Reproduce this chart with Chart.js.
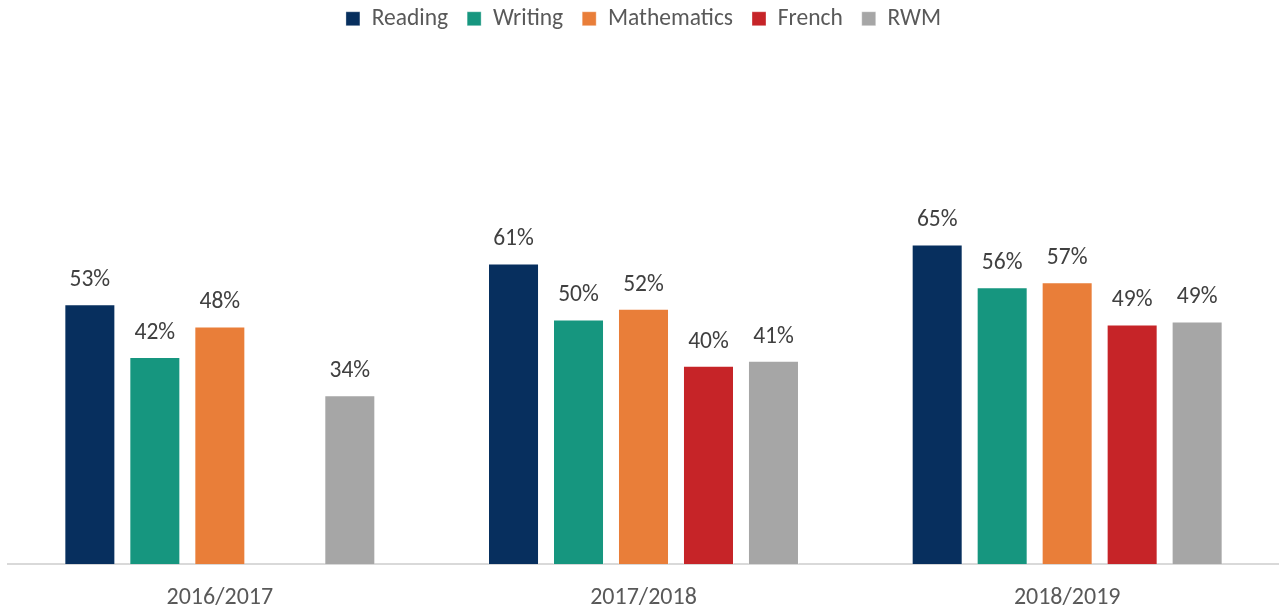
<!DOCTYPE html>
<html>
<head>
<meta charset="utf-8">
<script src="https://cdn.jsdelivr.net/npm/chart.js@4"></script>
<style>
  html, body { margin: 0; padding: 0; background: #ffffff; }
  #wrap { width: 1279px; height: 610px; position: relative; }
</style>
</head>
<body>
<div id="wrap"><canvas id="chart"></canvas></div>
<script>
// data (percent)
const years = ['2016/2017', '2017/2018', '2018/2019'];
const reading = [52.9, 61.2, 65.1];
const writing = [42.2, 49.8, 56.4];
const mathematics = [48.4, 52.0, 57.4];
const french = [null, 40.4, 48.8];
const rwm = [34.4, 41.4, 49.4];

const FONT = "Carlito, Calibri, Lato, 'Open Sans', sans-serif";

// draws the value above each bar
const barLabels = {
    id: 'barLabels',
    afterDatasetsDraw(chart) {
        const ctx = chart.ctx;
        ctx.save();
        ctx.font = '23.5px ' + FONT;
        ctx.fillStyle = '#404040';
        ctx.textAlign = 'center';
        ctx.textBaseline = 'middle';
        chart.data.datasets.forEach(function (ds, i) {
            const meta = chart.getDatasetMeta(i);
            meta.data.forEach(function (bar, j) {
                const v = ds.data[j];
                if (v === null || v === undefined) return;
                ctx.fillText(Math.round(v) + '%', bar.x, bar.y - 24);
            });
        });
        ctx.restore();
    }
};

// make the legend block taller so the plot starts lower
const legendSpace = {
    id: 'legendSpace',
    beforeInit(chart) {
        const fit = chart.legend.fit;
        chart.legend.fit = function () {
            fit.bind(chart.legend)();
            this.height = 85;
        };
    }
};

function makeSet(label, data, color) {
    return {
        label: label,
        data: data,
        backgroundColor: color,
        borderColor: 'rgba(255,255,255,0.35)',
        borderWidth: 1,
        categoryPercentage: 0.767,
        barPercentage: 0.785
    };
}

new Chart(document.getElementById('chart'), {
    type: 'bar',
    data: {
        labels: years,
        datasets: [
            makeSet('Reading', reading, '#072F5E'),
            makeSet('Writing', writing, '#16967F'),
            makeSet('Mathematics', mathematics, '#E97E39'),
            makeSet('French', french, '#C62428'),
            makeSet('RWM', rwm, '#A6A6A6')
        ]
    },
    options: {
        responsive: true,
        maintainAspectRatio: false,
        animation: false,
        events: [],
        layout: { padding: { left: 8, right: 0, top: -12, bottom: -21 } },
        plugins: {
            legend: {
                position: 'top',
                align: 'center',
                labels: {
                    boxWidth: 14,
                    boxHeight: 14,
                    padding: 19,
                    color: '#595959',
                    font: { family: FONT, size: 23.5 }
                }
            },
            tooltip: { enabled: false }
        },
        scales: {
            x: {
                grid: { display: false, drawTicks: false },
                border: { display: true, color: '#D9D9D9', width: 2 },
                ticks: {
                    color: '#595959',
                    padding: 19,
                    font: { family: FONT, size: 24 }
                }
            },
            y: {
                display: false,
                min: 0,
                max: 100
            }
        }
    },
    plugins: [barLabels, legendSpace]
});
</script>
</body>
</html>
